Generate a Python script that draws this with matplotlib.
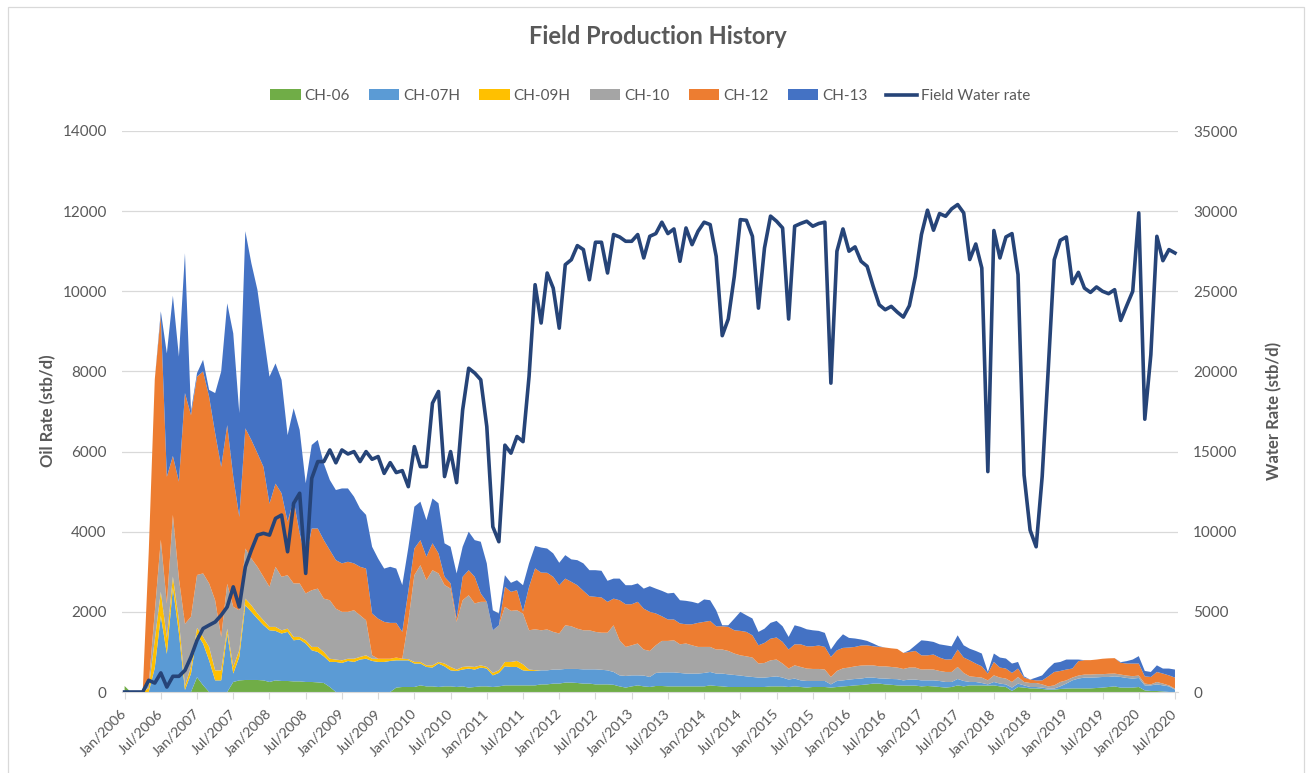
import numpy as np
import matplotlib.pyplot as plt
from matplotlib.patches import Patch, Rectangle
from matplotlib.lines import Line2D

plt.rcParams['font.family'] = ['Lato', 'DejaVu Sans']

# monthly data, Jan/2006 .. Jul/2020 (one row per year)
ch06 = [
    150, 0, 0, 0, 0, 0, 0, 0, 0, 0, 0, 0,
    370, 170, 0, 0, 0, 0, 250, 290, 300, 300, 300, 290,
    250, 290, 275, 275, 265, 265, 250, 250, 240, 225, 125, 0,
    0, 0, 0, 0, 0, 0, 0, 0, 0, 110, 125, 125,
    125, 165, 140, 140, 125, 140, 140, 125, 140, 110, 125, 140,
    140, 125, 140, 165, 165, 165, 165, 165, 165, 190, 190, 210,
    210, 235, 235, 225, 210, 210, 190, 190, 190, 180, 140, 110,
    140, 165, 140, 125, 150, 150, 140, 140, 140, 140, 140, 140,
    140, 165, 150, 140, 125, 125, 125, 125, 125, 125, 125, 140,
    140, 140, 125, 140, 125, 110, 125, 125, 125, 110, 125, 140,
    150, 165, 175, 190, 210, 210, 190, 180, 165, 160, 160, 160,
    140, 150, 140, 125, 110, 125, 165, 140, 165, 165, 165, 160,
    165, 140, 125, 25, 125, 110, 90, 90, 75, 60, 60, 75,
    85, 90, 90, 90, 90, 100, 110, 125, 140, 110, 110, 110,
    125, 40, 25, 25, 15, 0, 0,
]
ch07h = [
    0, 0, 0, 0, 0, 600, 1900, 950, 2600, 1460, 50, 460,
    1080, 1040, 790, 290, 290, 1460, 210, 585, 1865, 1700, 1530, 1380,
    1290, 1235, 1185, 1225, 1025, 1045, 960, 790, 760, 665, 625, 750,
    725, 775, 750, 810, 830, 775, 750, 750, 775, 680, 665, 665,
    585, 545, 485, 470, 585, 500, 400, 400, 420, 475, 435, 470,
    445, 290, 335, 475, 460, 460, 375, 360, 360, 350, 350, 350,
    350, 340, 340, 350, 355, 355, 375, 365, 350, 320, 275, 290,
    275, 250, 270, 250, 325, 340, 350, 350, 335, 320, 320, 320,
    335, 335, 310, 320, 315, 300, 285, 265, 250, 235, 235, 235,
    250, 220, 185, 195, 165, 165, 150, 150, 150, 80, 150, 150,
    160, 160, 160, 170, 150, 130, 145, 145, 155, 130, 150, 150,
    150, 140, 150, 150, 140, 125, 160, 135, 85, 85, 60, 30,
    85, 70, 65, 85, 85, 55, 35, 35, 35, 25, 25, 65,
    125, 200, 245, 270, 270, 265, 265, 250, 250, 265, 240, 225,
    225, 125, 140, 165, 150, 140, 60,
]
ch09h = [
    0, 0, 0, 0, 100, 700, 600, 400, 280, 330, 100, 170,
    150, 165, 335, 250, 250, 120, 165, 165, 165, 165, 130, 120,
    85, 100, 80, 80, 85, 65, 80, 85, 125, 110, 80, 60,
    65, 55, 80, 65, 85, 55, 80, 80, 55, 70, 40, 30,
    40, 40, 40, 55, 40, 70, 85, 35, 65, 55, 65, 55,
    40, 60, 65, 110, 125, 150, 150, 35, 20, 0, 0, 0,
    0, 0, 0, 0, 0, 0, 0, 0, 0, 0, 0, 0,
    0, 0, 0, 0, 0, 0, 0, 0, 0, 0, 0, 0,
    0, 0, 0, 0, 0, 0, 0, 0, 0, 0, 0, 0,
    0, 0, 0, 0, 0, 0, 0, 0, 0, 0, 0, 0,
    0, 0, 0, 0, 0, 0, 0, 0, 0, 0, 0, 0,
    0, 0, 0, 0, 0, 0, 0, 0, 0, 0, 0, 0,
    0, 0, 0, 0, 0, 0, 0, 0, 0, 0, 0, 0,
    0, 0, 0, 0, 0, 0, 0, 0, 0, 0, 0, 0,
    0, 0, 0, 0, 0, 0, 0,
]
ch10 = [
    0, 0, 0, 0, 100, 700, 1300, 850, 1540, 1040, 1550, 1250,
    1320, 1585, 1585, 1750, 835, 1120, 1500, 1000, 1250, 1165, 1165, 1085,
    1000, 1500, 1335, 1335, 1335, 1335, 1170, 1415, 1455, 1330, 1460, 1270,
    1210, 1170, 1210, 1040, 875, 85, 0, 0, 0, 0, 0, 945,
    2165, 2415, 2125, 2375, 2210, 1960, 1955, 1190, 1665, 1775, 1585, 1585,
    1625, 1065, 1125, 1375, 1275, 1265, 1265, 980, 1020, 1000, 1020, 940,
    900, 1090, 1065, 1005, 975, 975, 935, 925, 940, 1165, 875, 725,
    750, 795, 650, 650, 690, 785, 785, 800, 715, 750, 705, 665,
    650, 625, 600, 600, 585, 535, 505, 500, 485, 350, 365, 415,
    420, 350, 275, 330, 335, 310, 300, 300, 285, 185, 250, 300,
    300, 315, 325, 305, 305, 300, 305, 300, 290, 285, 300, 300,
    270, 275, 270, 250, 250, 250, 300, 200, 140, 125, 135, 100,
    165, 150, 145, 140, 165, 85, 100, 100, 80, 55, 80, 110,
    80, 70, 75, 75, 75, 80, 70, 80, 70, 60, 60, 60,
    60, 45, 25, 60, 45, 25, 25,
]
ch12 = [
    0, 0, 0, 0, 3300, 5800, 5600, 3170, 1470, 2420, 5760, 5030,
    4950, 5040, 4660, 4170, 4245, 3960, 3245, 2330, 3000, 2960, 2835, 2745,
    2075, 2075, 2085, 1335, 2080, 1250, 830, 1540, 1500, 1460, 1250, 1210,
    1210, 1250, 1170, 1210, 1290, 1045, 1000, 920, 895, 865, 670, 750,
    665, 625, 585, 670, 500, 205, 130, 80, 585, 625, 665, 210,
    0, 0, 0, 500, 475, 500, 50, 1085, 1520, 1440, 1415, 1375,
    1205, 1165, 1110, 1085, 985, 850, 875, 880, 770, 665, 1000, 1065,
    1025, 1040, 1020, 975, 795, 615, 535, 520, 520, 480, 525, 600,
    625, 650, 580, 580, 600, 580, 610, 610, 555, 455, 500, 540,
    550, 540, 475, 525, 565, 555, 565, 585, 565, 500, 515, 510,
    500, 485, 500, 500, 475, 485, 470, 465, 465, 400, 390, 415,
    355, 350, 375, 335, 310, 315, 435, 385, 400, 335, 280, 170,
    335, 250, 250, 225, 210, 110, 85, 65, 100, 250, 335, 275,
    270, 225, 360, 360, 360, 365, 385, 385, 385, 295, 300, 315,
    300, 180, 185, 250, 250, 250, 275,
]
ch13 = [
    0, 0, 0, 0, 0, 0, 100, 3080, 4000, 3120, 3490, 100,
    90, 290, 170, 1000, 2380, 3040, 3580, 2590, 4920, 4410, 4080, 3330,
    3170, 3000, 2830, 2160, 2290, 2580, 1920, 2085, 2210, 1910, 1750, 1750,
    1870, 1830, 1665, 1455, 1340, 1665, 1500, 1330, 1400, 1355, 1170, 1085,
    1045, 960, 915, 1120, 1250, 835, 915, 1130, 750, 960, 915, 1290,
    960, 500, 295, 290, 225, 250, 660, 585, 560, 625, 605, 585,
    560, 585, 560, 625, 685, 650, 665, 665, 525, 500, 540, 475,
    475, 460, 500, 640, 620, 635, 650, 665, 580, 585, 560, 485,
    560, 515, 400, 25, 40, 290, 475, 415, 420, 335, 355, 395,
    415, 390, 315, 475, 435, 425, 400, 365, 350, 185, 235, 340,
    240, 210, 150, 110, 70, 15, 0, 0, 0, 0, 40, 140,
    375, 360, 315, 330, 355, 325, 355, 305, 290, 315, 320, 40,
    210, 250, 250, 235, 165, 30, 0, 70, 125, 195, 225, 225,
    250, 225, 40, 0, 0, 0, 0, 0, 0, 15, 60, 100,
    185, 135, 125, 165, 125, 170, 200,
]
water_rate = [
    0, 0, 0, 0, 730, 560, 1190, 310, 980, 980, 1350, 2190,
    3230, 3960, 4170, 4370, 4790, 5310, 6560, 5310, 7810, 8850, 9790, 9900,
    9790, 10830, 11040, 8750, 11770, 12400, 7400, 13330, 14375, 14375, 15100, 14300,
    15100, 14850, 15000, 14375, 15000, 14520, 14690, 13640, 14310, 13690, 13810, 12810,
    15310, 14060, 14060, 18020, 18750, 13440, 15000, 13060, 17600, 20200, 19900, 19480,
    16560, 10310, 9375, 15400, 14900, 15940, 15620, 19690, 25410, 23020, 26140, 25200,
    22700, 26660, 26970, 27850, 27600, 25720, 28060, 28060, 26140, 28540, 28390, 28120,
    28120, 28540, 27080, 28430, 28600, 29310, 28600, 28890, 26870, 28950, 27910, 28750,
    29310, 29160, 27180, 22230, 23270, 25930, 29470, 29430, 28430, 23950, 27700, 29690,
    29370, 28950, 23270, 29060, 29230, 29370, 29060, 29230, 29310, 19270, 27500, 28890,
    27500, 27770, 26870, 26560, 25310, 24160, 23850, 24060, 23700, 23390, 24100, 25930,
    28540, 30060, 28810, 29850, 29680, 30140, 30410, 29890, 26980, 27950, 26450, 13750,
    28790, 27080, 28390, 28600, 26040, 13540, 10100, 9060, 13440, 20100, 26970, 28180,
    28390, 25480, 26180, 25200, 24930, 25270, 25000, 24850, 25100, 23180, 24100, 25000,
    29890, 17020, 21040, 28430, 26910, 27600, 27390,
]

tick_labels = [
    'Jan/2006', 'Jul/2006', 'Jan/2007', 'Jul/2007', 'Jan/2008', 'Jul/2008',
    'Jan/2009', 'Jul/2009', 'Jan/2010', 'Jul/2010', 'Jan/2011', 'Jul/2011',
    'Jan/2012', 'Jul/2012', 'Jan/2013', 'Jul/2013', 'Jan/2014', 'Jul/2014',
    'Jan/2015', 'Jul/2015', 'Jan/2016', 'Jul/2016', 'Jan/2017', 'Jul/2017',
    'Jan/2018', 'Jul/2018', 'Jan/2019', 'Jul/2019', 'Jan/2020', 'Jul/2020',
]

well_names = ['CH-06', 'CH-07H', 'CH-09H', 'CH-10', 'CH-12', 'CH-13']
well_colors = ['#70AD47', '#5B9BD5', '#FFC000', '#A5A5A5', '#ED7D31', '#4472C4']
water_color = '#264478'
text_color = '#595959'
grid_color = '#D9D9D9'

months = np.arange(len(water_rate))

W, H = 1307, 773
fig = plt.figure(figsize=(W / 100, H / 100), dpi=100)
ax = fig.add_axes([122 / W, 1 - 692 / H, (1178 - 122) / W, (692 - 131) / H])

# stacked oil rates
ax.stackplot(months, ch06, ch07h, ch09h, ch10, ch12, ch13,
             colors=well_colors, linewidth=0)
ax.set_xlim(-0.43, 174.5)
ax.set_ylim(0, 14000)
ax.set_yticks(range(0, 14001, 2000))
ax.grid(axis='y', color=grid_color, linewidth=0.9)
ax.set_axisbelow(True)
for s in ['top', 'right', 'left']:
    ax.spines[s].set_visible(False)
ax.spines['bottom'].set_color(grid_color)
ax.tick_params(axis='y', length=0, labelcolor=text_color, labelsize=11, pad=11)
ax.set_xticks(np.arange(0, len(water_rate), 6))
ax.set_xticklabels(tick_labels, rotation=45, ha='right', va='center',
                   rotation_mode='anchor', fontsize=10.3, color=text_color)
ax.tick_params(axis='x', length=5, color=grid_color, pad=9)

# water rate on secondary axis
ax2 = ax.twinx()
ax2.plot(months, water_rate, color=water_color, linewidth=2.6,
         solid_joinstyle='round')
ax2.set_ylim(0, 35000)
ax2.set_yticks(range(0, 35001, 5000))
for s in ax2.spines.values():
    s.set_visible(False)
ax2.tick_params(axis='y', length=0, labelcolor=text_color, labelsize=11, pad=11)

fig.text(658 / W, 1 - 37 / H, 'Field Production History', ha='center', va='center',
         fontsize=17, fontweight='bold', color=text_color)
fig.text(48 / W, 1 - 411 / H, 'Oil Rate (stb/d)', rotation=90, ha='center',
         va='center', fontsize=12, fontweight='bold', color=text_color)
fig.text(1274 / W, 1 - 411 / H, 'Water Rate (stb/d)', rotation=90, ha='center',
         va='center', fontsize=12, fontweight='bold', color=text_color)

handles = [Patch(facecolor=c, edgecolor='none') for c in well_colors]
handles.append(Line2D([], [], color=water_color, linewidth=2.6))
fig.legend(handles, well_names + ['Field Water rate'], loc='center',
           bbox_to_anchor=(650 / W, 1 - 96 / H), ncol=7, frameon=False,
           fontsize=11, labelcolor=text_color, handlelength=2.0,
           handletextpad=0.25, columnspacing=1.25)

# chart border
fig.add_artist(Rectangle((8.3 / W, -0.05), (1304 - 8.3) / W, 1.05 - 7.3 / H,
                         transform=fig.transFigure, fill=False,
                         edgecolor=grid_color, linewidth=0.9))

fig.savefig('out.png', dpi=100)
